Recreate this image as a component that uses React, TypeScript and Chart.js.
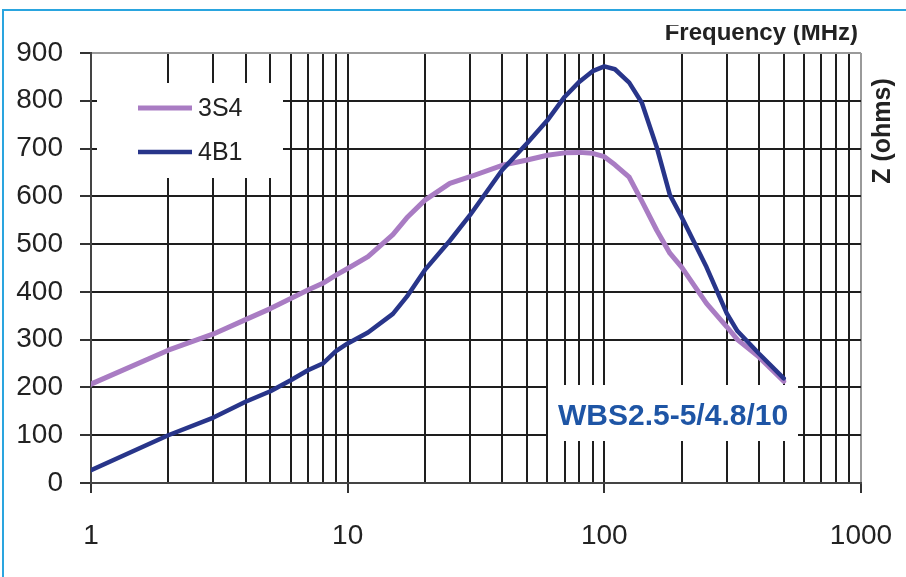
import React, { useEffect, useRef } from 'react';
import { Chart, registerables } from 'chart.js';

Chart.register(...registerables);

// ---- data ----
const freqs = [1, 2, 3, 4, 5, 6, 7, 8, 9, 10, 12, 15, 17, 20, 25, 30, 40, 50, 60, 70, 80, 90, 100, 110, 125, 140, 160, 180, 200, 250, 300, 330, 400, 500];
const z3S4 = [207, 278, 312, 342, 365, 386, 404, 418, 435, 449, 474, 520, 555, 592, 627, 641, 665, 676, 686, 691, 692, 690, 683, 666, 640, 590, 529, 481, 452, 376, 327, 300, 264, 213];
const z4B1 = [27, 100, 137, 170, 192, 215, 236, 250, 276, 292, 315, 354, 390, 446, 507, 561, 655, 711, 759, 808, 840, 862, 872, 866, 838, 796, 703, 603, 557, 452, 355, 318, 271, 219];
const seriesNames = ['3S4', '4B1'];
const xTickValues = [1, 2, 3, 4, 5, 6, 7, 8, 9, 10, 20, 30, 40, 50, 60, 70, 80, 90, 100, 200, 300, 400, 500, 600, 700, 800, 900, 1000];
const xLabelValues = [1, 10, 100, 1000];
const yMin = 0;
const yMax = 900;
const yStep = 100;
const xTitle = 'Frequency (MHz)';
const yTitle = 'Z (ohms)';
const partNumber = 'WBS2.5-5/4.8/10';

// ---- styles ----
const FONT = '"Liberation Sans", Arial, Helvetica, sans-serif';
const PURPLE = '#a97cc3';
const NAVY = '#28358a';
const GRID = '#1e1e1e';
const EDGE = '#9a9a9a';

const overlay = {
  id: 'overlay',
  beforeDatasetsDraw(chart: any) {
    const ctx = chart.ctx;
    ctx.save();
    ctx.fillStyle = '#ffffff';
    ctx.fillRect(97, 83, 186, 95);
    ctx.fillRect(548, 385, 250, 56);
    ctx.restore();
  },
  afterDraw(chart: any) {
    const ctx = chart.ctx;
    ctx.save();
    // legend
    const items = [
      { name: seriesNames[0], color: PURPLE, y: 108, w: 5 },
      { name: seriesNames[1], color: NAVY, y: 152, w: 4.5 },
    ];
    items.forEach((it) => {
      ctx.strokeStyle = it.color;
      ctx.lineWidth = it.w;
      ctx.beginPath();
      ctx.moveTo(138, it.y);
      ctx.lineTo(192, it.y);
      ctx.stroke();
      ctx.fillStyle = '#222';
      ctx.font = `25px ${FONT}`;
      ctx.textAlign = 'left';
      ctx.textBaseline = 'middle';
      ctx.fillText(it.name, 198, it.y + 1);
    });

    // part number annotation
    ctx.fillStyle = '#1e55a5';
    ctx.font = `bold 30px ${FONT}`;
    ctx.textAlign = 'left';
    ctx.textBaseline = 'alphabetic';
    ctx.fillText(partNumber, 558, 425);

    // x title (clipped at the top)
    ctx.save();
    ctx.beginPath();
    ctx.rect(600, 25, 300, 30);
    ctx.clip();
    ctx.fillStyle = '#222';
    ctx.font = `bold 24px ${FONT}`;
    ctx.textAlign = 'right';
    ctx.textBaseline = 'alphabetic';
    ctx.fillText(xTitle, 858, 40);
    ctx.restore();

    // y title (rotated)
    ctx.save();
    ctx.translate(883, 131);
    ctx.rotate(-Math.PI / 2);
    ctx.fillStyle = '#222';
    ctx.font = `bold 25px ${FONT}`;
    ctx.textAlign = 'center';
    ctx.textBaseline = 'middle';
    ctx.fillText(yTitle, 0, 0);
    ctx.restore();

    // outer frame
    ctx.strokeStyle = '#2aa5df';
    ctx.lineWidth = 2;
    ctx.beginPath();
    ctx.moveTo(3, 577);
    ctx.lineTo(3, 10);
    ctx.lineTo(906, 10);
    ctx.stroke();
    ctx.restore();
  },
};

export default function App() {
  const ref = useRef<HTMLCanvasElement | null>(null);

  useEffect(() => {
    if (!ref.current) return;
    const chart = new Chart(ref.current, {
      type: 'line',
      data: {
        datasets: [
          {
            label: seriesNames[0],
            data: freqs.map((f, i) => ({ x: f, y: z3S4[i] })),
            borderColor: PURPLE,
            backgroundColor: PURPLE,
            borderWidth: 5,
            pointRadius: 0,
            tension: 0,
            fill: false,
            borderJoinStyle: 'round',
            borderCapStyle: 'round',
            order: 1,
          },
          {
            label: seriesNames[1],
            data: freqs.map((f, i) => ({ x: f, y: z4B1[i] })),
            borderColor: NAVY,
            backgroundColor: NAVY,
            borderWidth: 4.5,
            pointRadius: 0,
            tension: 0,
            fill: false,
            borderJoinStyle: 'round',
            borderCapStyle: 'round',
            order: 0,
          },
        ],
      },
      options: {
        responsive: false,
        animation: false,
        devicePixelRatio: 1,
        layout: { padding: { top: 53, right: 45, left: 0, bottom: 0 } },
        plugins: {
          legend: { display: false },
          tooltip: { enabled: false },
        },
        scales: {
          x: {
            type: 'logarithmic',
            min: 1,
            max: 1000,
            afterBuildTicks: (s: any) => {
              s.ticks = xTickValues.map((v) => ({ value: v, major: xLabelValues.includes(v) }));
            },
            afterFit: (s: any) => {
              s.height = 94;
              s.paddingRight = 30;
              s.paddingLeft = 10;
            },
            ticks: {
              autoSkip: false,
              maxRotation: 0,
              minRotation: 0,
              padding: 26,
              color: '#222',
              font: { family: FONT, size: 28 },
              callback: (v: any) => (xLabelValues.includes(Number(v)) ? String(v) : ''),
            },
            grid: {
              color: (c: any) => (c.tick && c.tick.value === 1000 ? EDGE : GRID),
              lineWidth: 2,
              tickLength: 10,
              tickWidth: 2,
              tickColor: (c: any) => (c.tick && xLabelValues.includes(c.tick.value) ? '#333' : 'rgba(0,0,0,0)'),
            },
            border: { display: true, color: '#444', width: 2 },
          },
          y: {
            type: 'linear',
            min: yMin,
            max: yMax,
            afterFit: (s: any) => {
              s.width = 91;
            },
            ticks: {
              stepSize: yStep,
              padding: 17,
              color: '#222',
              font: { family: FONT, size: 28 },
            },
            grid: {
              color: (c: any) => (c.tick && c.tick.value === yMax ? EDGE : GRID),
              lineWidth: 2,
              tickLength: 11,
              tickWidth: 2,
              tickColor: '#333',
            },
            border: { display: true, color: '#444', width: 2 },
          },
        },
      },
      plugins: [overlay],
    } as any);
    return () => chart.destroy();
  }, []);

  return (
    <canvas
      ref={ref}
      width={906}
      height={577}
      style={{ position: 'fixed', left: 0, top: 0, width: 906, height: 577, background: '#fff' }}
    />
  );
}
